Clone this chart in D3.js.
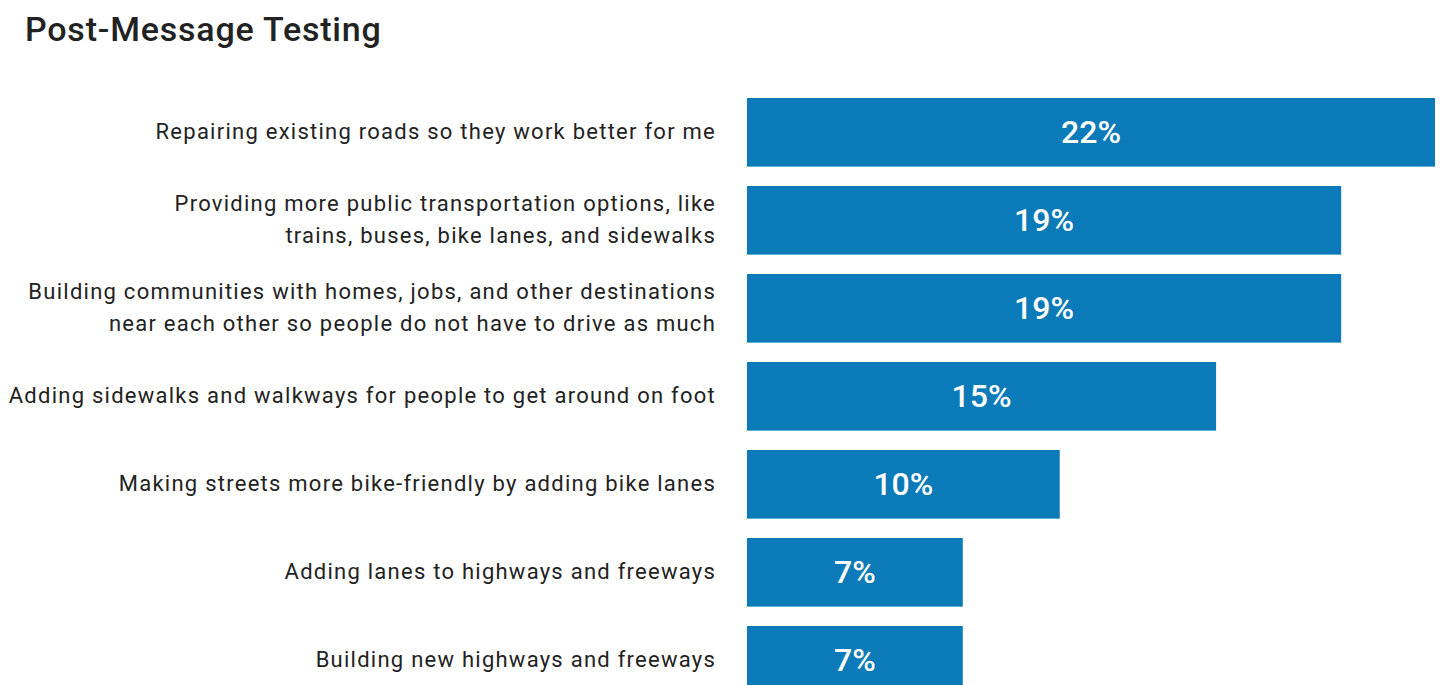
<!DOCTYPE html>
<html>
<head>
<meta charset="utf-8">
<script src="https://cdn.jsdelivr.net/npm/d3@7"></script>
<style>
  html, body { margin: 0; padding: 0; background: #fff; }
  svg { display: block; }
</style>
</head>
<body>
<svg id="chart" width="1442" height="685"></svg>
<script>
const title = "Post-Message Testing";
const categories = [
  ["Repairing existing roads so they work better for me"],
  ["Providing more public transportation options, like", "trains, buses, bike lanes, and sidewalks"],
  ["Building communities with homes, jobs, and other destinations", "near each other so people do not have to drive as much"],
  ["Adding sidewalks and walkways for people to get around on foot"],
  ["Making streets more bike-friendly by adding bike lanes"],
  ["Adding lanes to highways and freeways"],
  ["Building new highways and freeways"]
];
const values = [22, 19, 19, 15, 10, 6.9, 6.9];
const valueLabels = ["22%", "19%", "19%", "15%", "10%", "7%", "7%"];

const svg = d3.select("#chart");
const font = "Roboto, 'Noto Sans', sans-serif";

svg.append("text")
  .attr("x", 25).attr("y", 41)
  .attr("font-family", font)
  .attr("font-size", 34)
  .attr("font-weight", 500)
  .attr("letter-spacing", 0.8)
  .attr("fill", "#222")
  .text(title);

const step = 88, pad = 0.22;
const x = d3.scaleLinear().domain([0, 22]).range([747, 1435]);
const y = d3.scaleBand()
  .domain(d3.range(categories.length))
  .range([98, 98 + step * (categories.length - pad)])
  .paddingInner(pad)
  .paddingOuter(0);

const g = svg.append("g");
const rows = g.selectAll("g.row").data(values).join("g").attr("class", "row");

rows.append("rect")
  .attr("x", x(0))
  .attr("y", (d, i) => y(i))
  .attr("width", d => x(d) - x(0))
  .attr("height", y.bandwidth())
  .attr("fill", "#0b7ab8");

rows.append("text")
  .attr("x", d => (x(0) + x(d)) / 2)
  .attr("y", (d, i) => y(i) + y.bandwidth() / 2)
  .attr("dy", "0.33em")
  .attr("text-anchor", "middle")
  .attr("font-family", font)
  .attr("font-size", 32)
  .attr("font-weight", 500)
  .attr("fill", "#fff")
  .text((d, i) => valueLabels[i]);

rows.each(function(d, i) {
  const lines = categories[i];
  const cy = y(i) + y.bandwidth() / 2;
  const lh = 32;
  const t = d3.select(this).append("text")
    .attr("text-anchor", "end")
    .attr("font-family", font)
    .attr("font-size", 22)
    .attr("letter-spacing", 1.25)
    .attr("fill", "#222");
  lines.forEach((line, k) => {
    t.append("tspan")
      .attr("x", 716)
      .attr("y", cy + (k - (lines.length - 1) / 2) * lh)
      .attr("dy", "0.3em")
      .text(line);
  });
});
</script>
</body>
</html>
